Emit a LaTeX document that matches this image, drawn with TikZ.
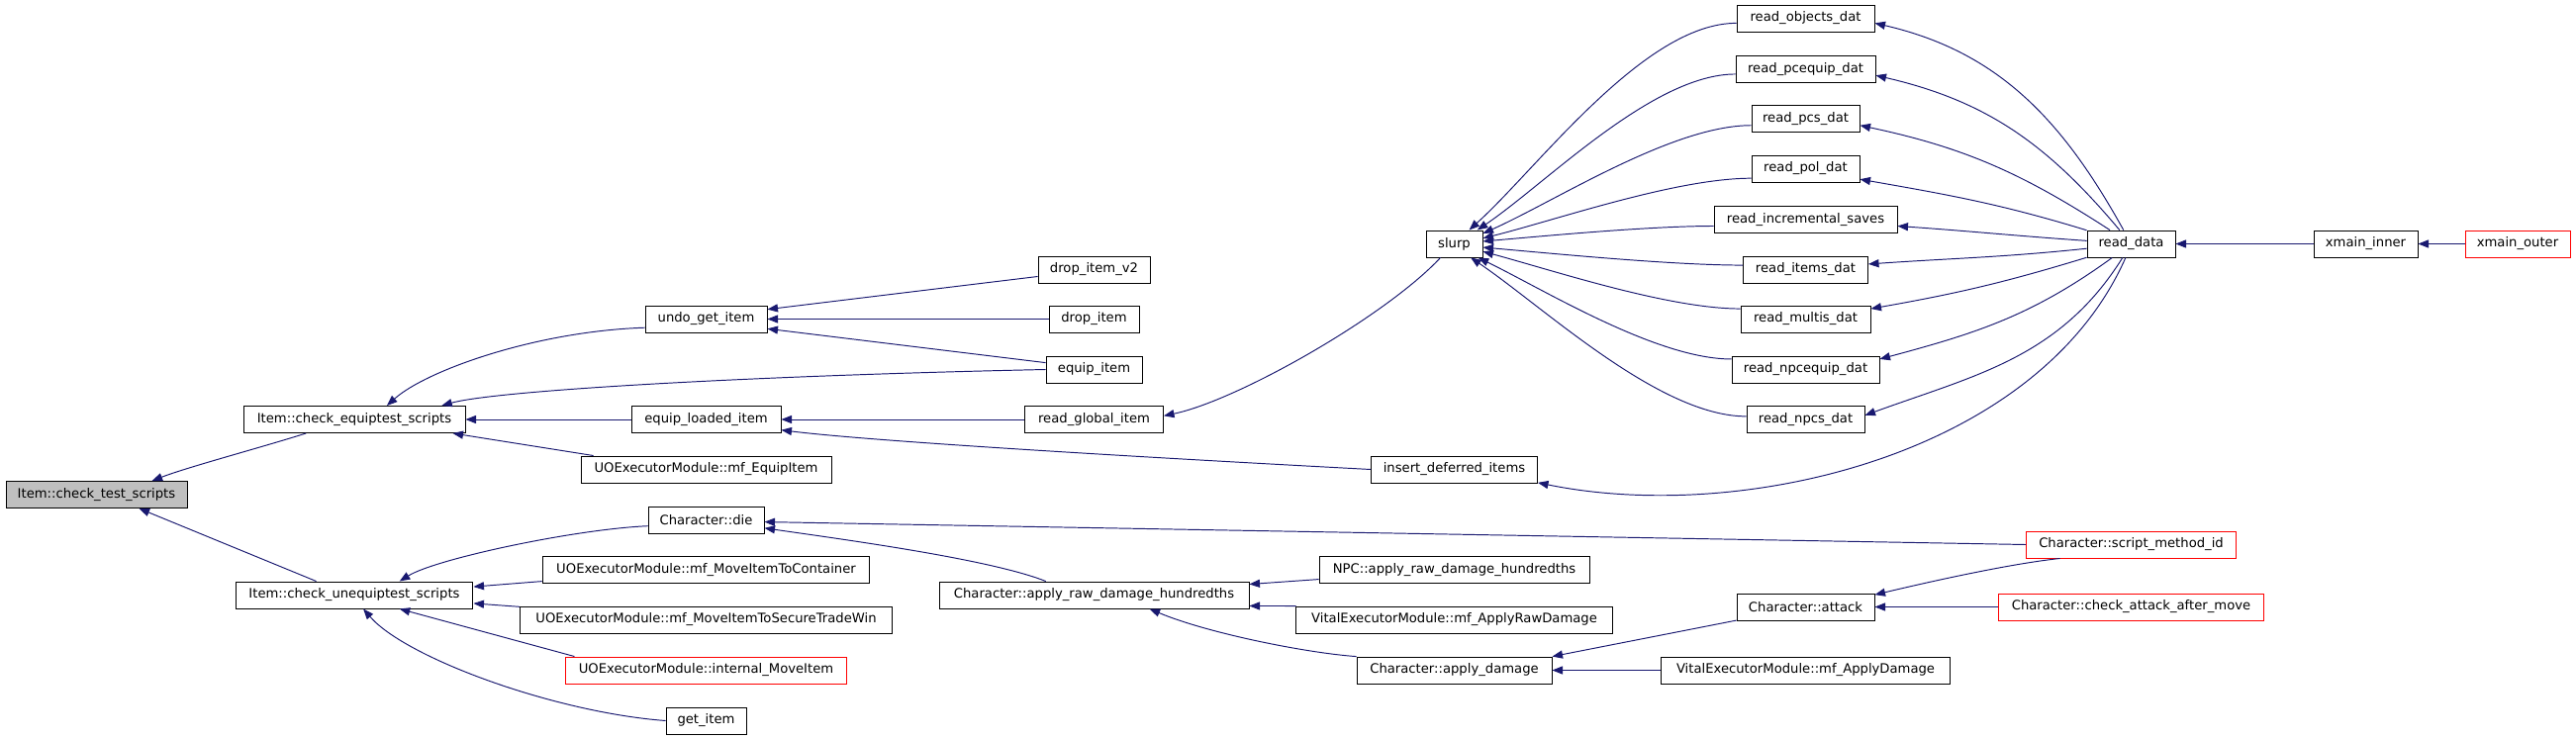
\documentclass[tikz,border=0pt]{standalone}
\usepackage{fontspec}
\setmainfont{DejaVu Sans}
\usetikzlibrary{arrows.meta}
\definecolor{edgeblue}{HTML}{191970}
\definecolor{rootgray}{HTML}{BFBFBF}
\tikzset{>={Triangle[length=6pt,width=4.6pt]}}
\tikzstyle{func}=[rectangle,draw=black,fill=white,line width=0.55pt,minimum height=0.54cm,inner sep=0pt,font=\fontsize{7.5}{9}\selectfont]
\tikzstyle{funcred}=[func,draw=red]
\tikzstyle{funcroot}=[func,fill=rootgray]
\tikzstyle{call}=[<-,draw=edgeblue,line width=0.55pt]

\begin{document}
\begin{tikzpicture}[x=0.02cm,y=0.02cm]
	\useasboundingbox (0,0) rectangle (2603,-747);
	\def \colA {97.5}
	\def \colB {358}
	\def \colC {713.5}
	\def \colD {1105.5}
	\def \colE {1469.5}
	\def \colF {1824.5}
	\def \colG {2153.5}
	\def \colH {2390.5}
	\def \colI {2544}

	\node[funcroot,minimum width=3.66cm] (cts) at (\colA,-500) {Item::check\_test\_scripts};

	\node[func,minimum width=4.48cm] (ceq) at (\colB,-424) {Item::check\_equiptest\_scripts};
	\node[func,minimum width=4.80cm] (cuneq) at (\colB,-601.5) {Item::check\_unequiptest\_scripts};

	\node[func,minimum width=2.46cm] (undo) at (\colC,-322.5) {undo\_get\_item};
	\node[func,minimum width=3.02cm] (eqload) at (\colC,-424) {equip\_loaded\_item};
	\node[func,minimum width=5.06cm] (mfequip) at (\colC,-474.5) {UOExecutorModule::mf\_EquipItem};
	\node[func,minimum width=2.34cm] (die) at (\colC,-525.5) {Character::die};
	\node[func,minimum width=6.62cm] (mvcont) at (\colC,-576) {UOExecutorModule::mf\_MoveItemToContainer};
	\node[func,minimum width=7.52cm] (mvtrade) at (\colC,-626.5) {UOExecutorModule::mf\_MoveItemToSecureTradeWin};
	\node[funcred,minimum width=5.68cm] (intmove) at (\colC,-677.5) {UOExecutorModule::internal\_MoveItem};
	\node[func,minimum width=1.62cm] (getitem) at (\colC,-728.5) {get\_item};

	\node[func,minimum width=2.26cm] (dropv2) at (\colD,-272.5) {drop\_item\_v2};
	\node[func,minimum width=1.82cm] (drop) at (\colD,-322.5) {drop\_item};
	\node[func,minimum width=1.94cm] (equip) at (\colD,-373.5) {equip\_item};
	\node[func,minimum width=2.80cm] (rglobal) at (\colD,-424) {read\_global\_item};
	\node[func,minimum width=6.26cm] (crawdmg) at (\colD,-601.5) {Character::apply\_raw\_damage\_hundredths};

	\node[func,minimum width=1.14cm] (slurp) at (\colE,-246.5) {slurp};
	\node[func,minimum width=3.36cm] (insdef) at (\colE,-474.5) {insert\_deferred\_items};
	\node[func,minimum width=5.46cm] (npcraw) at (\colE,-576) {NPC::apply\_raw\_damage\_hundredths};
	\node[func,minimum width=6.40cm] (vraw) at (\colE,-626.5) {VitalExecutorModule::mf\_ApplyRawDamage};
	\node[func,minimum width=3.94cm] (applydmg) at (\colE,-677.5) {Character::apply\_damage};

	\node[func,minimum width=2.78cm] (robj) at (\colF,-18.5) {read\_objects\_dat};
	\node[func,minimum width=2.82cm] (rpceq) at (\colF,-70) {read\_pcequip\_dat};
	\node[func,minimum width=2.18cm] (rpcs) at (\colF,-120) {read\_pcs\_dat};
	\node[func,minimum width=2.18cm] (rpol) at (\colF,-170.5) {read\_pol\_dat};
	\node[func,minimum width=3.70cm] (rincr) at (\colF,-222) {read\_incremental\_saves};
	\node[func,minimum width=2.52cm] (ritems) at (\colF,-272.5) {read\_items\_dat};
	\node[func,minimum width=2.62cm] (rmultis) at (\colF,-322.5) {read\_multis\_dat};
	\node[func,minimum width=2.98cm] (rnpceq) at (\colF,-373.5) {read\_npcequip\_dat};
	\node[func,minimum width=2.38cm] (rnpcs) at (\colF,-424) {read\_npcs\_dat};
	\node[func,minimum width=2.78cm] (attack) at (\colF,-613.5) {Character::attack};
	\node[func,minimum width=5.84cm] (vdmg) at (\colF,-677.5) {VitalExecutorModule::mf\_ApplyDamage};

	\node[func,minimum width=1.78cm] (rdata) at (\colG,-246.5) {read\_data};
	\node[funcred,minimum width=4.24cm] (smid) at (\colG,-550.5) {Character::script\_method\_id};
	\node[funcred,minimum width=5.36cm] (cafter) at (\colG,-613.5) {Character::check\_attack\_after\_move};

	\node[func,minimum width=2.10cm] (xinner) at (\colH,-246.5) {xmain\_inner};
	\node[funcred,minimum width=2.12cm] (xouter) at (\colI,-246.5) {xmain\_outer};

	% callers of the root
	\draw[call] (cts.14) .. controls (190,-472) and (265,-452) .. (ceq.196);
	\draw[call] (cts.-18) -- (cuneq.160);

	\draw[call] (ceq.23) .. controls (430,-375) and (540,-335) .. (undo.188);
	\draw[call] (ceq.9) .. controls (500,-395) and (750,-380) .. (equip.180);
	\draw[call] (ceq.east) -- (eqload.west);
	\draw[call] (ceq.-8.5) -- (mfequip.173);
	\draw[call] (cuneq.17) .. controls (440,-565) and (580,-535) .. (die.186);
	\draw[call] (cuneq.4.5) -- (mvcont.184.5);
	\draw[call] (cuneq.-4.5) -- (mvtrade.176);
	\draw[call] (cuneq.-17) -- (intmove.174);
	\draw[call] (cuneq.-57) .. controls (410,-665) and (560,-720) .. (getitem.west);

	\draw[call] (undo.9) -- (dropv2.187.6);
	\draw[call] (undo.east) -- (drop.west);
	\draw[call] (undo.-9) -- (equip.172.4);
	\draw[call] (eqload.east) -- (rglobal.west);
	\draw[call] (eqload.-8) .. controls (880,-446) and (1150,-462) .. (insdef.west);
	\draw[call] (die.-2) -- (smid.west);
	\draw[call] (die.-8) .. controls (850,-545) and (1000,-565) .. (crawdmg.164);

	\draw[call] (rglobal.3) .. controls (1250,-405) and (1400,-320) .. (slurp.225);
	\draw[call] (crawdmg.4) -- (npcraw.184.6);
	\draw[call] (crawdmg.-4) -- (vraw.175.5);
	\draw[call] (crawdmg.-14) .. controls (1220,-640) and (1320,-660) .. (applydmg.172);

	% the two fans round the read_* functions
	\foreach \rd/\sa/\so/\wa in {robj/43/42/184, rpceq/31/34/184, rpcs/20/24/187, rpol/11/14/190, rincr/5/5/184, ritems/-7/-5/176, rmultis/-15/-15/171, rnpceq/-30/-26/172, rnpcs/-40/-34/177}
		\draw[call] (slurp.\sa) to[out=\so,in=180,looseness=0.7] (\rd.\wa);
	\foreach \rd/\ea/\ia/\da in {robj/-4/-13/119, rpceq/-5/-13/130, rpcs/-7/-12/147, rpol/-11/-10/163, rincr/-4/-4/176, ritems/5/4/186, rmultis/9/10/197, rnpceq/8/15/216, rnpcs/4/20/238}
		\draw[call] (\rd.\ea) to[out=\ia,in=\da] (rdata.\da);

	\draw[call] (insdef.-9) .. controls (1760,-530) and (2060,-460) .. (rdata.248);
	\draw[call] (applydmg.8) -- (attack.191);
	\draw[call] (applydmg.east) -- (vdmg.west);
	\draw[call] (attack.10) .. controls (1950,-588) and (2030,-570) .. (smid.191);
	\draw[call] (attack.east) -- (cafter.west);
	\draw[call] (rdata.east) -- (xinner.west);
	\draw[call] (xinner.east) -- (xouter.west);
\end{tikzpicture}
\end{document}
